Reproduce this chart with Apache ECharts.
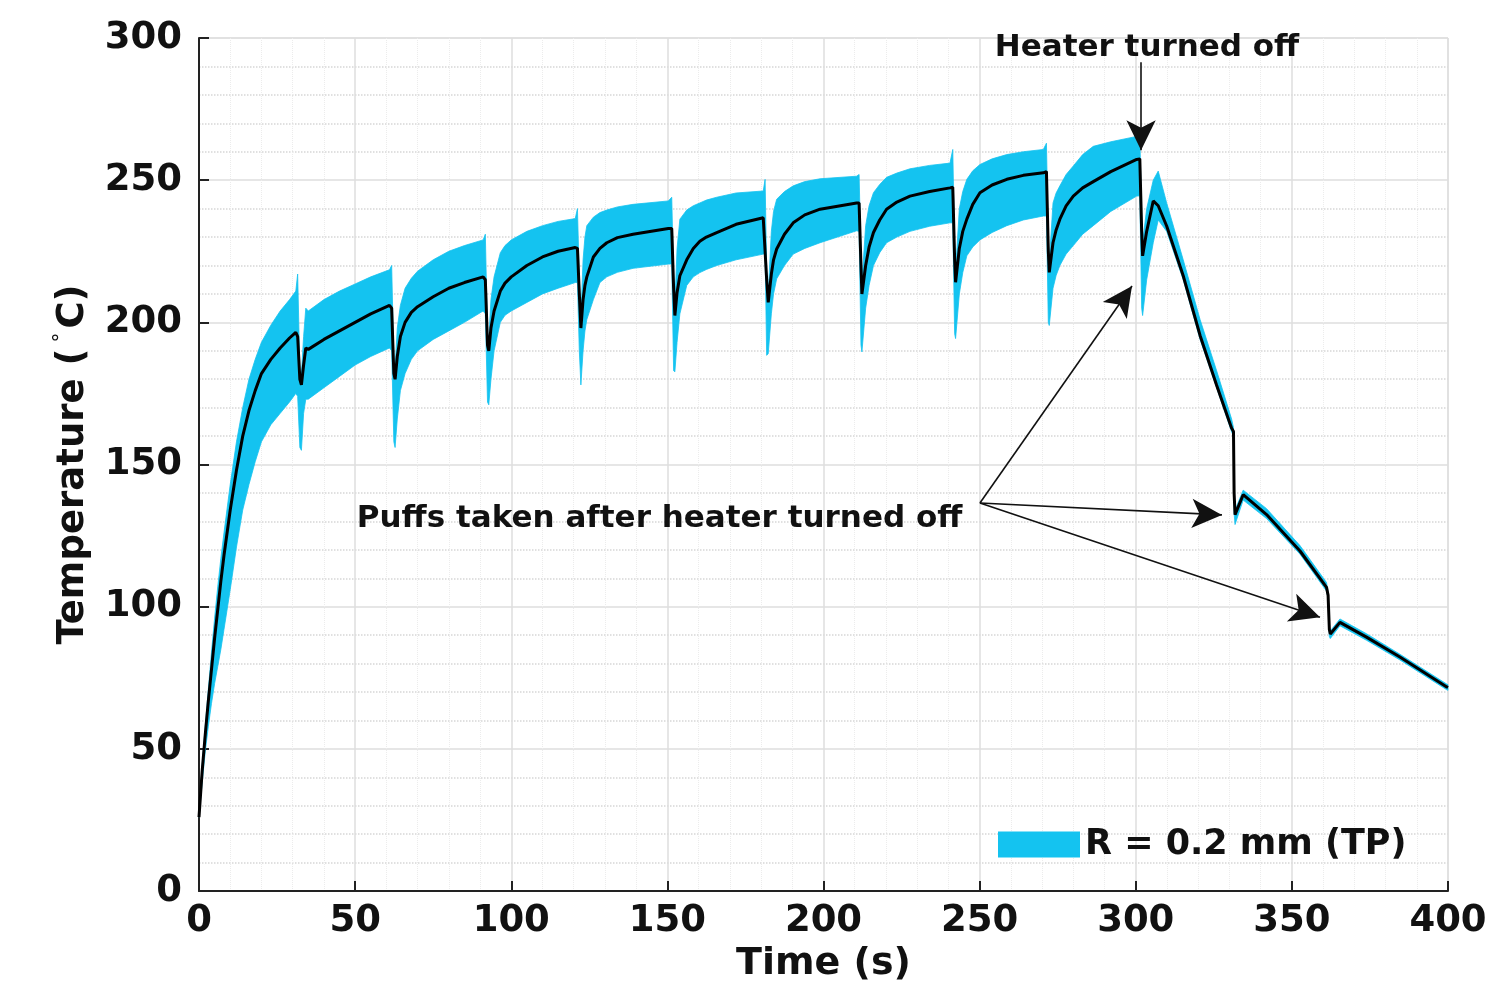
<!DOCTYPE html>
<html>
<head>
<meta charset="utf-8">
<script src="https://cdn.jsdelivr.net/npm/echarts@6/dist/echarts.min.js"></script>
<style>
html,body{margin:0;padding:0;background:#fff;}
#chart{width:1507px;height:988px;}
</style>
</head>
<body>
<div id="chart"></div>
<script>
// ---- data ----
var xTicks = [0, 50, 100, 150, 200, 250, 300, 350, 400];
var yTicks = [0, 50, 100, 150, 200, 250, 300];
var seriesName = 'R = 0.2 mm (TP)';
var time = [
  0,1,2,3,4,5,6,7,8,10,12,14,16,18,20,23,26,29,31,31.6,32.3,32.8,33.5,34.2,35,40,45,50,55,61,
  61.7,62.4,62.8,63.5,64.5,66,68,70,75,80,85,91,
  91.7,92.4,92.8,93.5,94.5,96.5,98,100,105,110,115,120.5,
  121.2,121.8,122.3,123,123.6,124.2,126.3,128.4,130.6,134,139,150.3,
  151.4,152,152.4,153.1,154,156.2,158.3,160.4,162.5,165.8,172,180.7,
  181.3,181.8,182.3,183.3,184,185,187.5,190.3,194,198.9,210.6,
  211.4,212,212.3,213.5,214.6,216,218,220.2,223.5,227.7,234,240.5,
  241.4,242,242.3,243.5,244.6,245.9,247.8,250.1,254,258.7,264,270.4,
  271.4,272,272.3,273.5,274.5,275.7,277.7,280,283,286.4,292,300.3,
  301.3,301.9,302.2,303.5,305.6,307.2,309.9,315.2,320.6,325.9,330.7,
  331.3,331.5,331.8,334.4,341.9,352.6,361.1,361.6,362,362.3,365.4,373.9,384.6,399.6,400];
var meanT = [
  26,42,55,67,78,89,99,109,118,134,148,160,169,176,182,187,191,194.5,196.5,195,180,178,185,191,190.5,194,197,200,203,206,
  205,182,180,188,195,200,203.5,205.5,209,212,214,216,
  215,192,190,198,204,211,213.8,216,220,223,225,226.3,
  226,210,198,208,213,216,223,226,228,229.8,231,233,
  233,212,202.4,210.5,216.4,222,226,228.5,230,231.6,234.5,236.8,
  237,215,207,217,222,225.8,231,235,237.8,239.8,242,
  242,220,210,220,226.5,231.6,236,239.8,242.3,244.4,246,247.3,
  247.5,222,214.1,226,232,236.3,241.5,245.6,248.3,250.3,251.7,252.6,
  253,225,217.6,228,232.5,236.3,241,244.4,247.3,249.5,253,257.3,
  257.5,232,223.4,232,242.7,241,233.9,216.4,195.4,177.9,162.8,
  161.6,140,132.4,139.4,132.4,119.6,106.8,104,92,90.4,94.5,89.3,82.3,71.8,71.6];
var upperT = [
  26,44,58,71,84,96,107,117,126,143,158,170,180,187,193,199,204,208,211,217,183,182,195,205,204,208,211,213.5,216,218.5,
  220,186,184,198,206,212,215.5,218,222,225,227,229,
  231,195,194,208,216,224.5,227,229,232,234,235.5,236.5,
  240,215,202,222,230,234,237,238.6,239.5,240.6,241.5,242.7,
  244,215,206,226,236.3,239.5,241,242,243,244,245.5,246.2,
  250.3,218,210,232,239,243.3,246,248,249.5,250.5,251.4,
  252,223,214,234,241,245.6,248.5,251,252.5,254,255.2,256,
  260.8,225,218,240,246,250.3,253.3,255.5,257.5,259,260,260.8,
  263,228,221,242,245.5,248,252,255,259,261.9,263.5,265.4,
  266,236,228,240,250,253.2,242,222,201,183,166,
  163,142,134,141,134.5,121.5,108.5,105,93,91.5,95.7,90.5,83.3,72.8,72.6];
var lowerT = [
  26,38,49,58,66,73,79,85,92,106,121,134,143,151,158,164,168,172,175,174,156,155,168,173,173,177,181,185,188,191,
  190,158,156,166,176,182,187,190,194,197,200,204,
  203,172,171,180,190,200,202.5,204,207,210,212,214,
  214,190,178,190,197,201,208,214,216,217.6,219,220.5,
  220.5,183,182.6,193,203,213,216,217.5,218.6,220,222,224,
  224,188.4,189,203,210,215.3,220,224,226,228,232.2,
  232,192,189.6,205,213,220,224.5,228,230,232,233.8,235,
  235,196,194.3,210,217.5,223.4,226.5,229,231.6,234,236,237.4,
  237.4,200,198.9,212,216.5,220,224,227,231,234,239,244.4,
  244.5,205,202.4,215,228,236,232,215,194,177,161.5,
  160,133,128.9,137.5,131,118.5,105.5,103,89.5,88.8,93.3,88.2,81.3,70.8,70.6];
// arrows: [from, to] in data coordinates
var heaterArrow = [[301.7, 291.5], [301.7, 260.5]];
var puffArrowStart = [250.1, 136.5];
var puffArrowEnds = [[298.8, 212.8], [327.6, 132.3], [359.0, 96.3]];
var heaterText = {coord: [303.6, 296.6], text: 'Heater turned off'};
var puffText = {coord: [147.5, 131.0], text: 'Puffs taken after heater turned off'};

// ---- build ----
var bandColor = '#14c3f0';
var FONT = 'DejaVu Sans';
var meanData = [];
for (var i = 0; i < time.length; i++) meanData.push([time[i], meanT[i]]);
var arrowLines = [[{coord: heaterArrow[0]}, {coord: heaterArrow[1]}]];
puffArrowEnds.forEach(function (e) { arrowLines.push([{coord: puffArrowStart}, {coord: e}]); });

function textPoint(p) {
  return {
    coord: p.coord, symbol: 'rect', symbolSize: 1,
    itemStyle: {color: 'rgba(0,0,0,0)'},
    label: {show: true, position: 'inside', formatter: p.text, color: '#111',
      fontFamily: FONT, fontWeight: 'bold', fontSize: 31}
  };
}

function renderBand(params, api) {
  var pts = [];
  for (var k = 0; k < time.length; k++) pts.push(api.coord([time[k], upperT[k]]));
  for (var k2 = time.length - 1; k2 >= 0; k2--) pts.push(api.coord([time[k2], lowerT[k2]]));
  return {
    type: 'polygon',
    shape: {points: pts},
    style: {fill: bandColor, stroke: bandColor, lineWidth: 0.8}
  };
}

var chart = echarts.init(document.getElementById('chart'), null, {renderer: 'canvas'});
chart.setOption({
  animation: false,
  backgroundColor: '#fff',
  grid: {left: 199, right: 59, top: 38, bottom: 93, show: true, borderColor: '#d4d4d4', borderWidth: 1},
  legend: {
    left: 993, top: 822, icon: 'rect', itemWidth: 82, itemHeight: 26, itemGap: 10,
    data: [{name: seriesName, itemStyle: {color: bandColor}}],
    textStyle: {fontFamily: FONT, fontWeight: 'bold', fontSize: 35, color: '#111'}
  },
  xAxis: {
    type: 'value', min: 0, max: 400, interval: 50,
    name: 'Time (s)', nameLocation: 'middle', nameGap: 48,
    nameTextStyle: {fontFamily: FONT, fontWeight: 'bold', fontSize: 38, color: '#111'},
    axisLine: {show: true, onZero: false, lineStyle: {color: '#222', width: 2}},
    axisTick: {show: true, inside: true, length: 10, lineStyle: {color: '#222', width: 2}},
    axisLabel: {fontFamily: FONT, fontWeight: 'bold', fontSize: 37, color: '#111', margin: 12,
      formatter: function (v) { return xTicks.indexOf(v) >= 0 ? String(v) : ''; }},
    splitLine: {show: true, lineStyle: {color: '#dedede', width: 1.5}},
    minorTick: {show: true, splitNumber: 5, length: 0},
    minorSplitLine: {show: true, lineStyle: {color: '#ececec', type: 'dotted', width: 1}}
  },
  yAxis: {
    type: 'value', min: 0, max: 300, interval: 50,
    name: 'Temperature ({deg|°}C)', nameLocation: 'middle', nameGap: 105,
    nameTextStyle: {fontFamily: FONT, fontWeight: 'bold', fontSize: 37, color: '#111',
      rich: {deg: {fontFamily: FONT, fontSize: 20, fontWeight: 'normal', color: '#111', padding: [0, 4, 22, 6]}}},
    axisLine: {show: true, onZero: false, lineStyle: {color: '#222', width: 2}},
    axisTick: {show: true, inside: true, length: 10, lineStyle: {color: '#222', width: 2}},
    axisLabel: {fontFamily: FONT, fontWeight: 'bold', fontSize: 37, color: '#111', margin: 17,
      formatter: function (v) { return yTicks.indexOf(v) >= 0 ? String(v) : ''; }},
    splitLine: {show: true, lineStyle: {color: '#dedede', width: 1.5}},
    minorTick: {show: true, splitNumber: 5, length: 0},
    minorSplitLine: {show: true, lineStyle: {color: '#d6d6d6', type: 'dotted', width: 1.5}}
  },
  series: [
    {
      name: seriesName, type: 'custom', renderItem: renderBand, data: [[0]],
      itemStyle: {color: bandColor}, silent: true, z: 2
    },
    {
      name: 'mean', type: 'line', data: meanData, symbol: 'none',
      lineStyle: {color: '#000', width: 3}, z: 5, silent: true,
      markLine: {
        silent: true, symbol: ['none', 'arrow'], symbolSize: [22, 30],
        lineStyle: {color: '#111', width: 1.6, type: 'solid'},
        label: {show: false},
        data: arrowLines
      },
      markPoint: {
        silent: true,
        data: [textPoint(heaterText), textPoint(puffText)]
      }
    }
  ]
});
</script>
</body>
</html>
